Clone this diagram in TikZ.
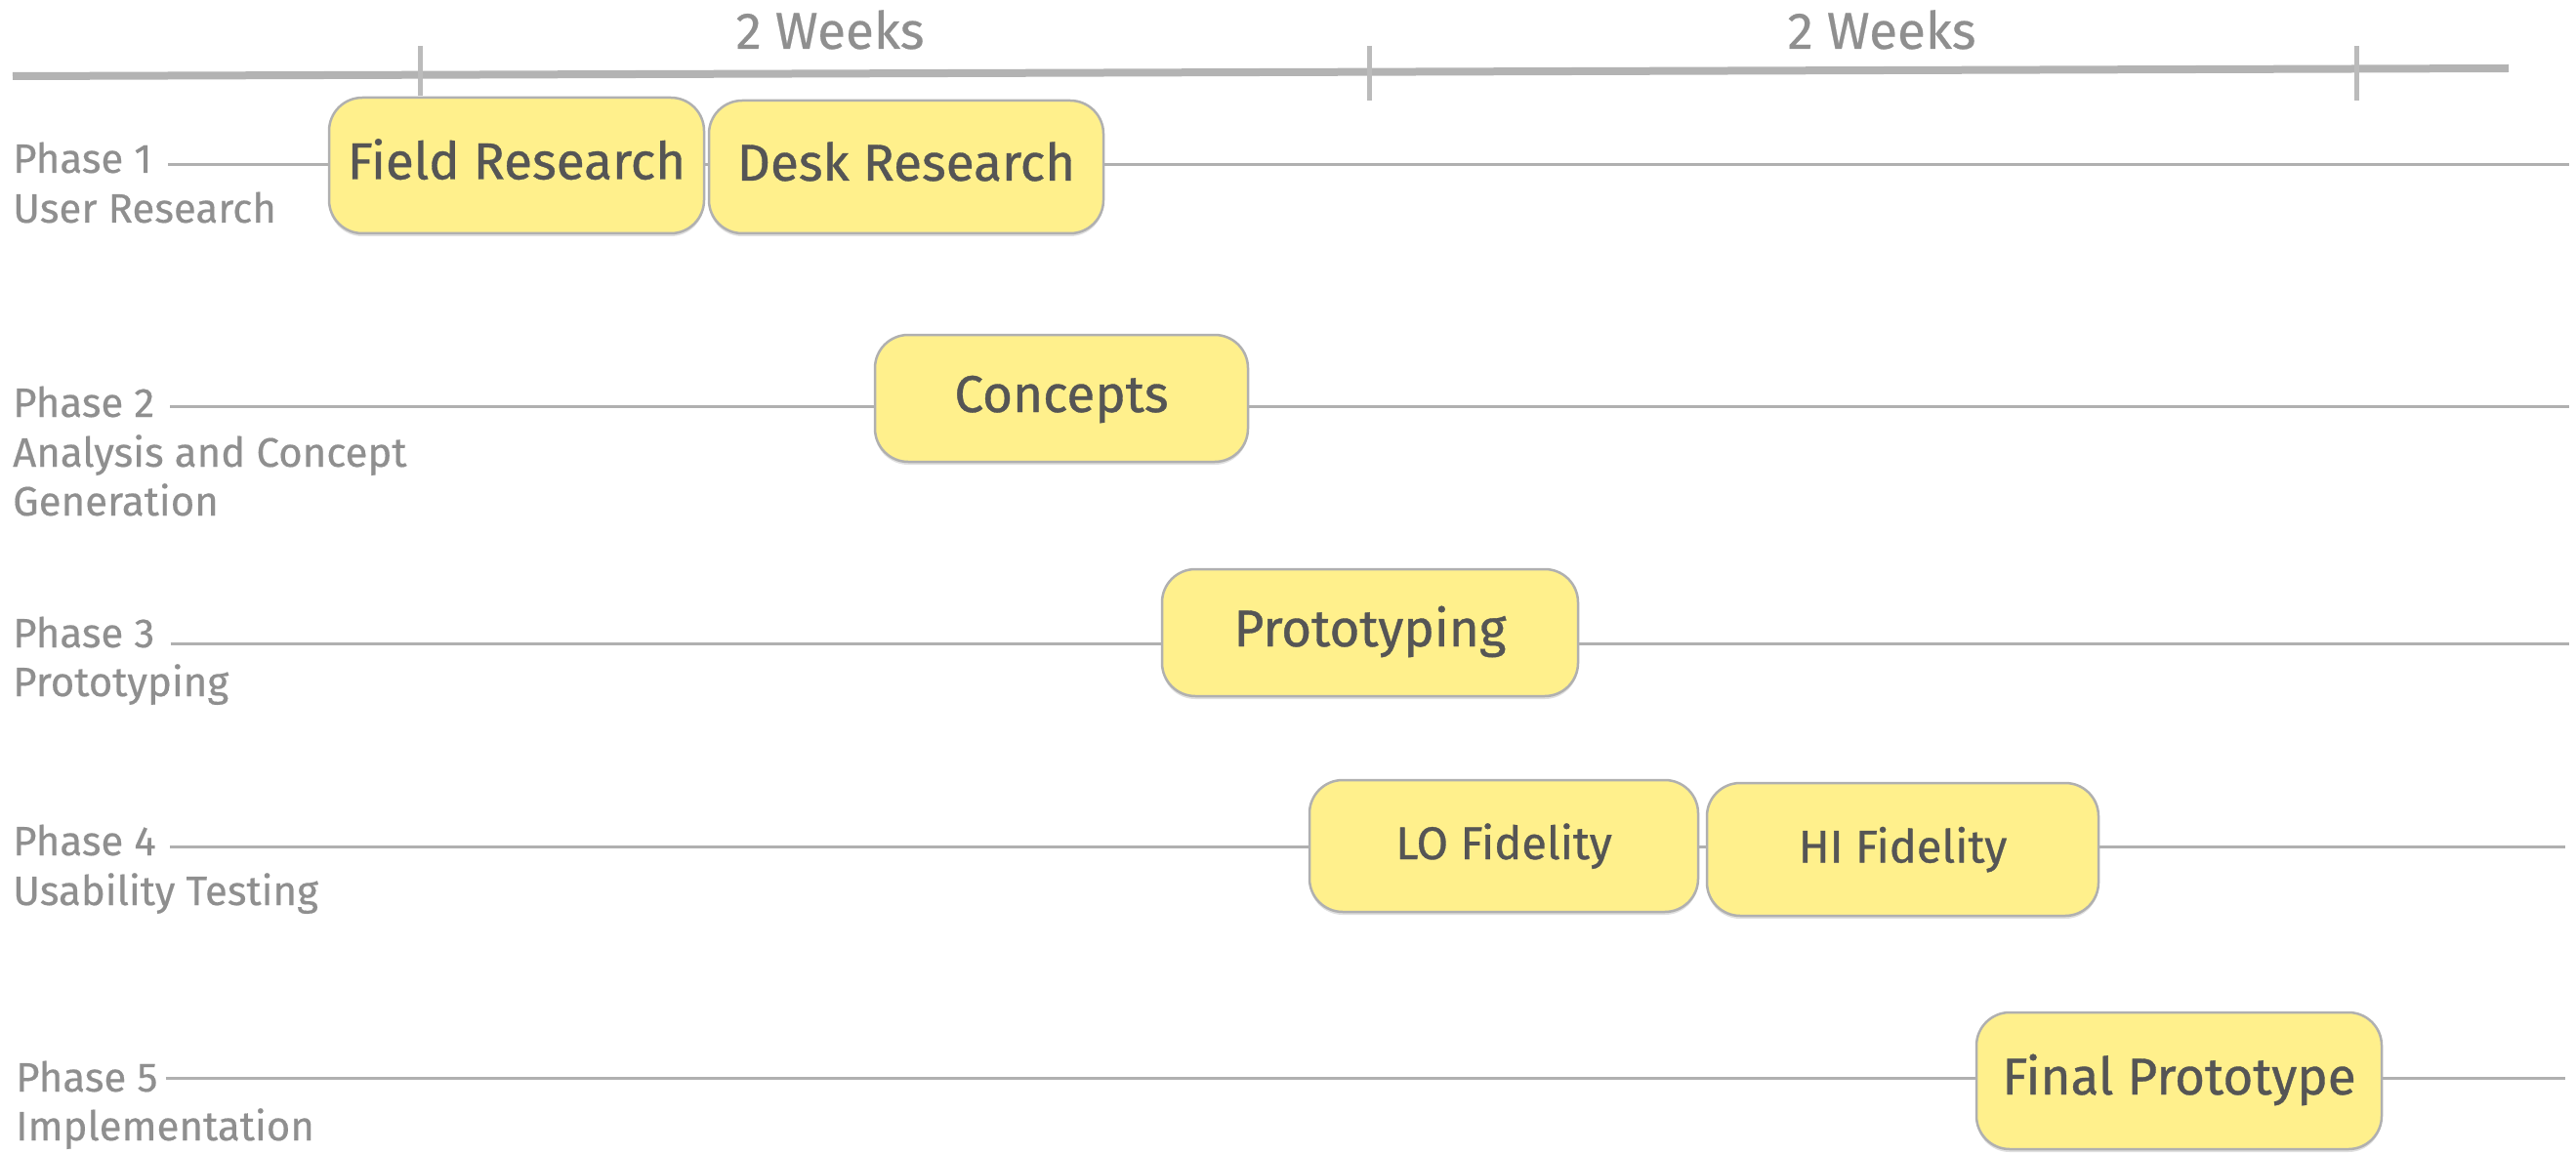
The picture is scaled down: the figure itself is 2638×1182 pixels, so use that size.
\documentclass[tikz,border=0pt]{standalone}
\usepackage{fontspec}
\setmainfont{Fira Sans}
\newfontfamily\boxfont[FakeBold=0.7]{Fira Sans}
\newfontfamily\labelfont[FakeBold=0.4]{Fira Sans}
\usetikzlibrary{shadows}
\definecolor{boxfill}{HTML}{FFF08C}
\definecolor{boxtext}{HTML}{555555}
\definecolor{labeltext}{HTML}{8F8F8F}
\definecolor{rulegray}{HTML}{B3B3B3}
\definecolor{linegray}{HTML}{B0B0B0}
\begin{document}
\begin{tikzpicture}[x=1pt,y=-1pt,
  phaselabel/.style={anchor=base west, inner sep=0pt, text=labeltext, font=\labelfont\fontsize{42}{49}\selectfont},
  weekslabel/.style={anchor=base, inner sep=0pt, text=labeltext, font=\labelfont\fontsize{53}{60}\selectfont},
  taskbox/.style={draw=linegray, line width=2.5pt, fill=boxfill, rounded corners=34pt,
    text=boxtext, inner sep=0pt, text height=36pt, text depth=8pt,
    font=\boxfont\fontsize{53}{60}\selectfont,
    drop shadow={shadow xshift=0pt, shadow yshift=-3pt, opacity=0.25, fill=black!50}},
  smalltask/.style={taskbox, text height=33pt, text depth=6pt, font=\boxfont\fontsize{47}{54}\selectfont},
  phaseline/.style={draw=linegray, line width=3pt},
  timeline/.style={draw=rulegray, line width=8pt},
  tickmark/.style={draw=rulegray!90, line width=5pt}
]
\useasboundingbox (0,0) rectangle (2638,1182);

% timeline
\draw[timeline] (13,78) -- (2569,70);
\draw[tickmark] (430,47) -- (430,98);
\draw[tickmark] (1402,47) -- (1402,103);
\draw[tickmark] (2413,47) -- (2413,103);
\node[weekslabel] (w1) at (850,50) {2 Weeks};
\node[weekslabel] (w2) at (1927,50) {2 Weeks};

% phase labels
\node[phaselabel] (ph1) at (13,177) {Phase 1};
\node[phaselabel] (ph1s) at (13,228) {User Research};
\node[phaselabel] (ph2) at (13,427) {Phase 2};
\node[phaselabel] (ph2s) at (13,478) {Analysis and Concept};
\node[phaselabel] (ph2t) at (13,528) {Generation};
\node[phaselabel] (ph3) at (13,663) {Phase 3};
\node[phaselabel] (ph3s) at (13,713) {Prototyping};
\node[phaselabel] (ph4) at (13,876) {Phase 4};
\node[phaselabel] (ph4s) at (13,927) {Usability Testing};
\node[phaselabel] (ph5) at (16,1118) {Phase 5};
\node[phaselabel] (ph5s) at (16,1168) {Implementation};

% right ends (also fix each phase line's height)
\coordinate (end1) at (2631,169);
\coordinate (end2) at (2631,416);
\coordinate (end3) at (2631,659);
\coordinate (end4) at (2627,867);
\coordinate (end5) at (2627,1104);

% task boxes
\node[taskbox, minimum width=384pt, minimum height=139pt] (fr) at (529,169.5) {Field Research};
\node[taskbox, minimum width=404pt, minimum height=136pt] (dr) at (928,171) {Desk Research};
\node[taskbox, minimum width=382pt, minimum height=130pt] (co) at (1087,408) {Concepts};
\node[taskbox, minimum width=426pt, minimum height=130pt] (pr) at (1403,648) {Prototyping};
\node[smalltask, minimum width=398pt, minimum height=135pt] (lo) at (1540,866.5) {LO Fidelity};
\node[smalltask, minimum width=401pt, minimum height=136pt] (hi) at (1948.5,870) {HI Fidelity};
\node[taskbox, minimum width=415pt, minimum height=140pt] (fp) at (2231.5,1107) {Final Prototype};

% phase lines
\draw[phaseline] ([xshift=16pt]ph1.east |- end1) -- (fr.west |- end1);
\draw[phaseline] (fr.east |- end1) -- (dr.west |- end1);
\draw[phaseline] (dr.east |- end1) -- (end1);
\draw[phaseline] ([xshift=16pt]ph2.east |- end2) -- (co.west |- end2);
\draw[phaseline] (co.east |- end2) -- (end2);
\draw[phaseline] ([xshift=16pt]ph3.east |- end3) -- (pr.west |- end3);
\draw[phaseline] (pr.east |- end3) -- (end3);
\draw[phaseline] ([xshift=14pt]ph4.east |- end4) -- (lo.west |- end4);
\draw[phaseline] (lo.east |- end4) -- (hi.west |- end4);
\draw[phaseline] (hi.east |- end4) -- (end4);
\draw[phaseline] ([xshift=8pt]ph5.east |- end5) -- (fp.west |- end5);
\draw[phaseline] (fp.east |- end5) -- (end5);
\end{tikzpicture}
\end{document}
